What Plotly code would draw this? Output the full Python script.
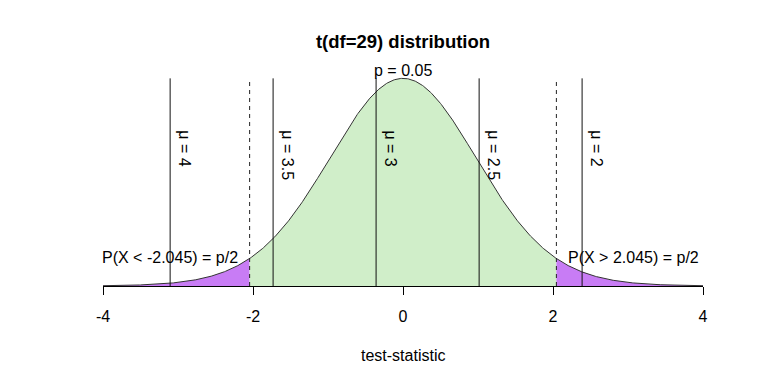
import math
import numpy as np
import plotly.graph_objects as go

# ---- data ----
df_t = 29
crit = 2.045
mu_labels = ["\u03bc = 4", "\u03bc = 3.5", "\u03bc = 3", "\u03bc = 2.5", "\u03bc = 2"]
mu_tstats = [-3.105, -1.732, -0.359, 1.015, 2.388]
x_ticks = [-4, -2, 0, 2, 4]
p_label = "p = 0.05"
left_label = "P(X < -2.045) = p/2"
right_label = "P(X > 2.045) = p/2"

def tpdf(x, nu):
    c = math.gamma((nu + 1) / 2) / (math.sqrt(nu * math.pi) * math.gamma(nu / 2))
    return c * (1 + x ** 2 / nu) ** (-(nu + 1) / 2)

xs = np.linspace(-4, 4, 801)
ys = np.array([tpdf(v, df_t) for v in xs])
ymax = float(ys.max())

GREEN = "#d0eec9"
PURPLE = "#c87cf5"
FONT = "Liberation Sans, Arial, sans-serif"

fig = go.Figure()

def add_fill(lo, hi, color):
    m = (xs >= lo) & (xs <= hi)
    xx = np.concatenate([[lo], xs[m], [hi]])
    yy = np.concatenate([[tpdf(lo, df_t)], ys[m], [tpdf(hi, df_t)]])
    fig.add_trace(go.Scatter(x=xx, y=yy, mode="lines", line=dict(width=0),
                             fill="tozeroy", fillcolor=color, hoverinfo="skip",
                             showlegend=False))

add_fill(-4, -crit, PURPLE)
add_fill(-crit, crit, GREEN)
add_fill(crit, 4, PURPLE)

fig.add_trace(go.Scatter(x=xs, y=ys, mode="lines",
                         line=dict(color="#333333", width=1), showlegend=False))

# dashed critical lines
for c in (-crit, crit):
    fig.add_trace(go.Scatter(x=[c, c], y=[0, ymax], mode="lines",
                             line=dict(color="#222222", width=1, dash="4px,4px"),
                             showlegend=False))

# mu lines
for t in mu_tstats:
    fig.add_trace(go.Scatter(x=[t, t], y=[0, ymax], mode="lines",
                             line=dict(color="#111111", width=1), showlegend=False))

annotations = []
for t, lab in zip(mu_tstats, mu_labels):
    annotations.append(dict(x=t, y=0.301, text=lab, textangle=90, showarrow=False,
                            xanchor="left", yanchor="top", xshift=3,
                            font=dict(size=16, color="black", family=FONT)))

annotations.append(dict(x=0, y=ymax, text=p_label, showarrow=False,
                        xanchor="center", yanchor="bottom", yshift=-3,
                        font=dict(size=16, color="black", family=FONT)))
annotations.append(dict(x=-crit, y=0.055, text=left_label, showarrow=False,
                        xanchor="right", yanchor="middle", xshift=-10,
                        font=dict(size=16, color="black", family=FONT)))
annotations.append(dict(x=crit, y=0.055, text=right_label, showarrow=False,
                        xanchor="left", yanchor="middle", xshift=10,
                        font=dict(size=16, color="black", family=FONT)))
annotations.append(dict(x=0.5, xref="paper", y=(286 - 355) / 226, yref="paper",
                        text="test-statistic", showarrow=False,
                        xanchor="center", yanchor="middle",
                        font=dict(size=16, color="black", family=FONT)))

fig.update_layout(
    width=768, height=384,
    margin=dict(l=103, r=65, t=60, b=98),
    paper_bgcolor="white", plot_bgcolor="white",
    showlegend=False,
    title=dict(text="<b>t(df=29) distribution</b>", x=403 / 768, xanchor="center",
               y=1 - 42 / 384, yref="container", yanchor="middle",
               font=dict(size=18.5, color="black", family=FONT)),
    annotations=annotations,
    xaxis=dict(range=[-4, 4], tickvals=x_ticks, ticktext=[str(v) for v in x_ticks],
               showgrid=False, zeroline=False, showline=True, linecolor="black",
               linewidth=1, ticks="outside", ticklen=8, tickcolor="black",
               ticklabelstandoff=8,
               tickfont=dict(size=16, color="black", family=FONT)),
    yaxis=dict(range=[0, 226 / 525], visible=False, showgrid=False, zeroline=False),
)

fig.write_html("out.html", config={"displayModeBar": False})

# remove the default page margin so the figure sits at the window origin
with open("out.html", "r", encoding="utf-8") as f:
    html = f.read()
html = html.replace("<head>", "<head><style>html,body{margin:0;padding:0;}</style>", 1)
with open("out.html", "w", encoding="utf-8") as f:
    f.write(html)
